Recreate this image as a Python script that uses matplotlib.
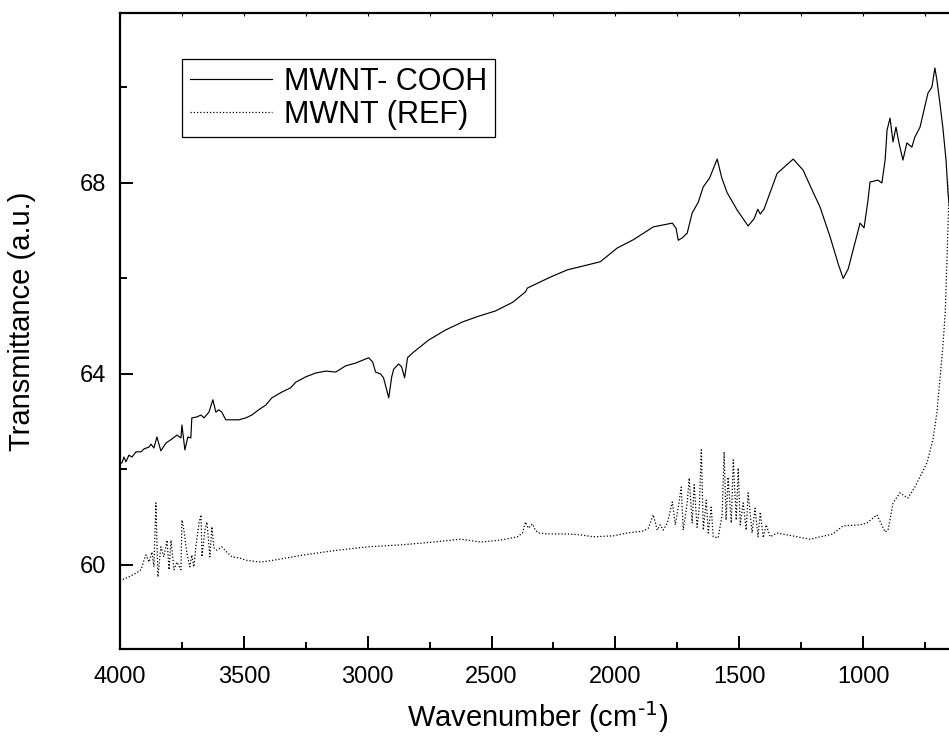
import matplotlib
matplotlib.use("Agg")
import matplotlib.pyplot as plt
from matplotlib.ticker import MultipleLocator

# MWNT-COOH (solid)
cooh_x = [4000, 3992, 3984, 3976, 3964, 3952, 3935, 3915, 3903, 3883, 3875, 3863, 3851, 3835,
          3815, 3790, 3770, 3754, 3750, 3738, 3726, 3714, 3710, 3690, 3673, 3661, 3641, 3625,
          3613, 3601, 3589, 3573, 3548, 3520, 3492, 3468, 3440, 3411, 3387, 3347, 3311, 3290,
          3250, 3210, 3169, 3129, 3089, 3048, 2996, 2980, 2968, 2948, 2936, 2923, 2915, 2903,
          2895, 2875, 2863, 2851, 2839, 2819, 2778, 2754, 2686, 2617, 2552, 2484, 2415, 2363,
          2355, 2262, 2194, 2061, 1992, 1928, 1847, 1770, 1755, 1746, 1730, 1710, 1690, 1665,
          1645, 1620, 1589, 1570, 1549, 1508, 1464, 1440, 1425, 1415, 1400, 1347, 1282, 1242,
          1210, 1174, 1133, 1100, 1080, 1060, 1040, 1020, 1012, 996, 980, 972, 940, 924, 911,
          903, 891, 879, 867, 855, 839, 823, 803, 791, 770, 754, 738, 722, 710, 702, 690, 678,
          665, 657, 645]
cooh_y = [62.12, 62.14, 62.26, 62.16, 62.30, 62.26, 62.37, 62.37, 62.43, 62.47, 62.53, 62.45,
          62.68, 62.39, 62.55, 62.64, 62.72, 62.66, 62.93, 62.41, 62.68, 62.66, 63.08, 63.10,
          63.14, 63.08, 63.20, 63.46, 63.20, 63.25, 63.20, 63.04, 63.04, 63.04, 63.08, 63.14,
          63.25, 63.35, 63.50, 63.62, 63.71, 63.83, 63.94, 64.02, 64.06, 64.04, 64.17, 64.23,
          64.34, 64.25, 64.04, 64.00, 63.92, 63.66, 63.50, 63.94, 64.10, 64.21, 64.15, 63.92,
          64.34, 64.44, 64.61, 64.71, 64.92, 65.09, 65.21, 65.32, 65.50, 65.72, 65.80, 66.03,
          66.18, 66.35, 66.64, 66.81, 67.08, 67.16, 67.05, 66.80, 66.85, 66.95, 67.37, 67.60,
          67.92, 68.10, 68.50, 68.10, 67.80, 67.43, 67.10, 67.25, 67.45, 67.35, 67.45, 68.20,
          68.50, 68.27, 67.90, 67.50, 66.87, 66.30, 66.00, 66.20, 66.60, 67.00, 67.16, 67.06,
          67.64, 68.02, 68.06, 68.00, 68.48, 69.11, 69.36, 68.86, 69.17, 68.84, 68.48, 68.84,
          68.75, 68.96, 69.17, 69.53, 69.88, 70.01, 70.41, 70.16, 69.68, 69.17, 68.48, 67.79,
          67.20]

# MWNT (REF) (dotted)
ref_x = [4000, 3992, 3964, 3935, 3915, 3903, 3895, 3883, 3871, 3863, 3855, 3847, 3835, 3823,
         3810, 3802, 3794, 3782, 3770, 3754, 3750, 3742, 3730, 3718, 3710, 3702, 3694, 3681,
         3673, 3669, 3657, 3649, 3637, 3629, 3621, 3609, 3589, 3569, 3548, 3520, 3492, 3432,
         3379, 3270, 3137, 3000, 2867, 2734, 2625, 2544, 2464, 2395, 2375, 2363, 2351, 2335,
         2323, 2311, 2274, 2194, 2141, 2089, 2008, 1952, 1920, 1887, 1867, 1847, 1831, 1819,
         1807, 1790, 1770, 1758, 1746, 1734, 1726, 1710, 1702, 1690, 1682, 1670, 1661, 1653,
         1645, 1633, 1625, 1613, 1605, 1585, 1569, 1561, 1553, 1545, 1532, 1524, 1512, 1504,
         1496, 1484, 1472, 1464, 1448, 1436, 1424, 1415, 1403, 1391, 1375, 1347, 1307, 1214,
         1121, 1081, 1012, 984, 944, 911, 899, 879, 851, 819, 791, 762, 742, 718, 702, 690,
         678, 668, 662, 657, 645]
ref_y = [59.66, 59.69, 59.75, 59.83, 59.90, 60.10, 60.21, 60.06, 60.27, 59.96, 61.30, 59.75,
         60.38, 60.17, 60.52, 59.90, 60.52, 59.90, 60.06, 59.90, 60.94, 60.73, 60.25, 59.96,
         60.21, 59.96, 60.36, 60.88, 61.05, 60.17, 60.73, 60.90, 60.17, 60.80, 60.36, 60.31,
         60.38, 60.27, 60.17, 60.15, 60.10, 60.06, 60.10, 60.20, 60.30, 60.38, 60.42, 60.48,
         60.54, 60.48, 60.52, 60.59, 60.67, 60.90, 60.77, 60.86, 60.73, 60.67, 60.65, 60.65,
         60.63, 60.59, 60.61, 60.67, 60.69, 60.71, 60.77, 61.05, 60.73, 60.84, 60.73, 60.88,
         61.32, 60.84, 61.21, 61.63, 60.73, 61.30, 61.82, 60.88, 61.68, 60.79, 61.21, 62.41,
         60.73, 61.36, 60.67, 61.21, 60.59, 60.57, 61.05, 62.37, 60.94, 61.84, 60.88, 62.20,
         60.94, 62.03, 60.84, 61.30, 60.73, 61.51, 60.67, 61.19, 60.59, 61.11, 60.57, 60.84,
         60.59, 60.67, 60.63, 60.54, 60.65, 60.82, 60.84, 60.88, 61.05, 60.69, 60.73, 61.30,
         61.51, 61.40, 61.63, 61.93, 62.14, 62.62, 63.18, 63.87, 64.56, 65.30, 66.30, 67.20,
         69.00]

labels = ["MWNT- COOH", "MWNT (REF)"]

plt.rcParams['font.family'] = ['Liberation Sans', 'DejaVu Sans']

fig = plt.figure(figsize=(9.49, 7.41), dpi=100)
ax = fig.add_axes([120 / 949, 1 - 649 / 741, 1 - 120 / 949, (649 - 13) / 741])

ax.plot(cooh_x, cooh_y, color='black', lw=0.85, label=labels[0])
ax.plot(ref_x, ref_y, color='black', lw=0.9, dashes=(1.0, 1.6), label=labels[1])

ax.set_xlim(4000, 653)
ax.set_ylim(58.24, 71.56)

ax.xaxis.set_major_locator(MultipleLocator(500))
ax.xaxis.set_minor_locator(MultipleLocator(250))
ax.yaxis.set_major_locator(MultipleLocator(4))
ax.yaxis.set_minor_locator(MultipleLocator(2))

ax.tick_params(which='major', direction='in', length=9.5, width=1.4, labelsize=17, pad=10,
               top=False, right=False)
ax.tick_params(which='minor', direction='in', length=5, width=1.4, top=False, right=False)
ax.tick_params(axis='x', which='major', pad=12)

for s in ['left', 'bottom', 'top']:
    ax.spines[s].set_linewidth(1.6)
ax.spines['right'].set_visible(False)

# small mirror ticks on the top axis
secx = ax.secondary_xaxis('top')
secx.xaxis.set_major_locator(MultipleLocator(250))
secx.tick_params(direction='in', length=2.5, width=0.8, labeltop=False)
secx.spines['top'].set_visible(False)

ax.set_xlabel("Wavenumber (cm$^{\\text{-1}}$)", fontsize=21)
ax.set_ylabel("Transmittance (a.u.)", fontsize=21)
ax.xaxis.label.set_va('center')
ax.yaxis.label.set_va('center')
ax.xaxis.set_label_coords((538 - 120) / 829, (649 - 717) / 636)
ax.yaxis.set_label_coords((22 - 120) / 829, (649 - 321) / 636)

leg = ax.legend(loc='upper left', bbox_to_anchor=(62 / 829, 1 - 46 / 636), fontsize=22,
                frameon=True, fancybox=False, framealpha=1, edgecolor='black',
                handlelength=2.7, handletextpad=0.4, borderpad=0.25, labelspacing=0.1,
                borderaxespad=0)
leg.get_frame().set_linewidth(0.9)

fig.savefig("out.png", dpi=100)
